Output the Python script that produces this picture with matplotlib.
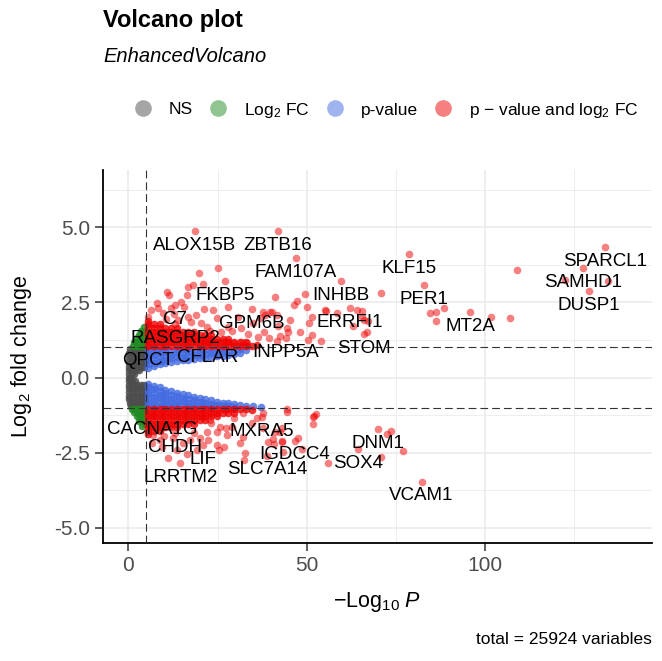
import matplotlib
matplotlib.use("Agg")
import matplotlib.pyplot as plt
from matplotlib.lines import Line2D
from matplotlib.ticker import FixedLocator

# x = -log10(P), y = log2 fold change

# not significant (grey): rows of (log2FC, [-log10 P ...])
ns_rows = [
    (0.95, [0.6, 1.8, 3.0, 4.2]),
    (0.83, [0.3, 1.5, 2.7, 3.9, 4.6]),
    (0.71, [0.2, 1.4, 2.6, 3.8, 4.6]),
    (0.59, [0.2, 1.3, 2.5, 3.7, 4.6]),
    (0.47, [0.2, 1.3, 2.5, 3.7, 4.6]),
    (0.35, [0.2, 1.2, 2.4, 3.6, 4.5]),
    (0.24, [0.2, 1.1, 2.2, 3.0]),
    (0.12, [0.2, 1.0, 1.6]),
    (0.00, [0.2, 0.5]),
    (-0.12, [0.2, 1.0, 2.0]),
    (-0.24, [0.2, 1.2, 2.4, 3.6, 4.5]),
    (-0.36, [0.2, 1.2, 2.4, 3.6, 4.6]),
    (-0.48, [0.2, 1.3, 2.5, 3.7, 4.6]),
    (-0.60, [0.2, 1.3, 2.5, 3.7, 4.6]),
    (-0.72, [0.3, 1.4, 2.6, 3.8, 4.6]),
    (-0.84, [0.4, 1.5, 2.7, 3.9, 4.6]),
    (-0.96, [0.7, 1.8, 3.0, 4.2]),
]

# log2 FC only (green): (-log10 P, log2FC)
fc_pts = [
    (4.3, 1.68), (3.6, 1.55), (4.6, 1.52), (2.9, 1.42), (4.0, 1.40),
    (2.3, 1.30), (3.4, 1.28), (4.6, 1.30), (1.7, 1.18), (2.8, 1.17),
    (3.9, 1.16), (4.7, 1.15), (1.3, 1.06), (2.3, 1.05), (3.3, 1.05),
    (4.3, 1.05),
    (1.0, -1.04), (2.0, -1.05), (3.0, -1.04), (4.0, -1.05), (4.7, -1.06),
    (1.6, -1.16), (2.6, -1.17), (3.6, -1.16), (4.5, -1.18), (2.3, -1.29),
    (3.3, -1.30), (4.3, -1.31), (3.0, -1.43), (4.0, -1.45), (4.6, -1.55),
    (3.8, -1.60),
]

# p-value only (blue): columns of (-log10 P, [log2FC ...])
pv_cols = [
    (5.6, [0.33, 0.45, 0.57, 0.69, 0.81, 0.93]),
    (7.2, [0.38, 0.50, 0.62, 0.74, 0.86, 0.97]),
    (8.8, [0.44, 0.56, 0.68, 0.80, 0.92]),
    (10.4, [0.48, 0.60, 0.72, 0.84, 0.96]),
    (12.0, [0.52, 0.64, 0.76, 0.88]),
    (13.6, [0.56, 0.68, 0.80, 0.92]),
    (15.2, [0.58, 0.70, 0.82, 0.94]),
    (16.8, [0.60, 0.72, 0.84, 0.96]),
    (18.4, [0.62, 0.74, 0.86]),
    (20.0, [0.64, 0.76, 0.88, 0.97]),
    (21.6, [0.66, 0.78, 0.90]),
    (23.2, [0.68, 0.80, 0.92]),
    (24.8, [0.71, 0.83, 0.95]),
    (26.4, [0.73, 0.85, 0.96]),
    (28.0, [0.76, 0.88]),
    (29.6, [0.79, 0.91]),
    (31.2, [0.83, 0.95]),
    (33.0, [0.90]),
    (5.6, [-0.20, -0.32, -0.44, -0.56, -0.68, -0.80, -0.92]),
    (7.2, [-0.27, -0.39, -0.51, -0.63, -0.75, -0.87, -0.97]),
    (8.8, [-0.33, -0.45, -0.57, -0.69, -0.81, -0.93]),
    (10.4, [-0.40, -0.52, -0.64, -0.76, -0.88, -0.97]),
    (12.0, [-0.46, -0.58, -0.70, -0.82, -0.94]),
    (13.6, [-0.50, -0.62, -0.74, -0.86, -0.96]),
    (15.2, [-0.55, -0.67, -0.79, -0.91]),
    (16.8, [-0.59, -0.71, -0.83, -0.95]),
    (18.4, [-0.64, -0.76, -0.88, -0.97]),
    (20.0, [-0.68, -0.80, -0.92]),
    (21.6, [-0.72, -0.84, -0.95]),
    (23.2, [-0.76, -0.88, -0.97]),
    (24.8, [-0.80, -0.92]),
    (26.4, [-0.83, -0.95]),
    (28.0, [-0.85, -0.96]),
    (29.6, [-0.87, -0.97]),
    (31.2, [-0.90]),
    (33.0, [-0.93]),
    (35.0, [-0.96]),
    (37.3, [-0.98]),
]

# p-value and log2 FC (red), dense core: columns of (-log10 P, [log2FC ...])
sig_cols = [
    (5.6, [1.05, 1.17, 1.29, 1.41, 1.53, 1.65, 1.77, 1.89]),
    (7.2, [1.05, 1.17, 1.29, 1.41, 1.53, 1.65, 1.77]),
    (8.8, [1.05, 1.17, 1.29, 1.41, 1.53, 1.65, 1.77]),
    (10.4, [1.05, 1.17, 1.29, 1.41, 1.53, 1.65]),
    (12.0, [1.05, 1.17, 1.29, 1.41, 1.53, 1.65]),
    (13.6, [1.05, 1.17, 1.29, 1.41, 1.53, 1.65]),
    (15.2, [1.05, 1.17, 1.29, 1.41, 1.53]),
    (16.8, [1.05, 1.17, 1.29, 1.41, 1.53]),
    (18.4, [1.05, 1.17, 1.29, 1.41, 1.53]),
    (20.0, [1.05, 1.17, 1.29, 1.41]),
    (21.6, [1.05, 1.17, 1.29, 1.41]),
    (23.2, [1.05, 1.17, 1.29, 1.41]),
    (24.8, [1.05, 1.17, 1.29]),
    (26.4, [1.05, 1.17, 1.29]),
    (28.0, [1.05, 1.17, 1.29]),
    (29.6, [1.05, 1.17]),
    (31.2, [1.05, 1.17]),
    (33.0, [1.05, 1.17]),
    (34.6, [1.06]),
    (36.2, [1.08]),
    (5.6, [-1.05, -1.17, -1.29, -1.41, -1.53, -1.65, -1.77, -1.89]),
    (7.2, [-1.05, -1.17, -1.29, -1.41, -1.53, -1.65, -1.77]),
    (8.8, [-1.05, -1.17, -1.29, -1.41, -1.53, -1.65, -1.77]),
    (10.4, [-1.05, -1.17, -1.29, -1.41, -1.53, -1.65]),
    (12.0, [-1.05, -1.17, -1.29, -1.41, -1.53, -1.65]),
    (13.6, [-1.05, -1.17, -1.29, -1.41, -1.53, -1.65]),
    (15.2, [-1.05, -1.17, -1.29, -1.41, -1.53]),
    (16.8, [-1.05, -1.17, -1.29, -1.41, -1.53]),
    (18.4, [-1.05, -1.17, -1.29, -1.41, -1.53]),
    (20.0, [-1.05, -1.17, -1.29, -1.41]),
    (21.6, [-1.05, -1.17, -1.29, -1.41]),
    (23.2, [-1.05, -1.17, -1.29]),
    (24.8, [-1.05, -1.17, -1.29]),
    (26.4, [-1.05, -1.17]),
    (28.0, [-1.05, -1.17]),
    (29.6, [-1.05, -1.17]),
    (31.2, [-1.06]),
    (33.0, [-1.06]),
    (34.6, [-1.07]),
]

# p-value and log2 FC (red), scattered points
sig_pts = [
    (122.3, 3.23), (134.4, 3.20), (108.9, 3.57), (107.0, 1.97), (101.7, 2.00),
    (88.5, 2.30), (86.3, 2.17), (84.6, 2.14), (86.3, 1.87), (70.7, 2.80),
    (58.4, 2.14), (64.2, 2.24), (65.4, 2.20), (65.6, 2.00), (67.3, 1.87),
    (63.1, 1.70), (66.8, 1.50), (19.8, 3.47), (25.1, 3.63), (10.9, 2.83),
    (11.5, 2.73), (16.8, 3.00), (18.2, 3.07), (20.9, 3.10), (16.5, 2.73),
    (14.8, 2.50), (8.1, 2.47), (8.4, 2.30), (15.6, 2.34), (21.2, 2.27),
    (23.7, 2.24), (27.9, 2.34), (12.0, 2.30), (19.0, 2.07), (16.8, 2.00),
    (5.6, 2.00), (41.1, 2.67), (49.4, 2.77), (47.2, 2.53), (50.0, 2.34),
    (46.4, 2.40), (55.3, 2.20), (51.4, 2.00), (50.6, 1.80), (45.3, 1.90),
    (40.2, 2.17), (38.3, 2.07), (36.9, 1.97), (34.9, 1.80), (48.0, 1.50),
    (44.7, 1.50), (42.5, 1.37), (51.4, 1.40), (53.9, 1.20), (41.6, 1.20),
    (36.3, 1.34), (31.8, 1.17), (33.2, 1.14), (29.3, 1.14), (55.0, 2.24),
    (44.4, 1.64), (50.3, 1.24), (37.7, 2.17), (39.7, 2.17), (41.6, 2.07),
    (66.2, 1.90), (30.7, 2.00), (24.9, 1.97), (27.9, 1.67), (22.0, 1.67),
    (6.3, 2.25), (9.8, 2.15), (12.8, 2.10), (10.5, 1.95), (14.0, 1.90),
    (17.5, 1.85), (20.5, 1.80), (23.0, 1.55), (26.0, 1.50), (29.0, 1.55),
    (31.5, 1.65), (33.5, 1.45), (38.0, 1.50), (39.5, 1.30), (42.0, 1.70),
    (37.7, -1.18), (44.4, -1.03), (44.4, -1.15), (52.5, -1.22), (52.0, -1.28),
    (51.7, -1.55), (41.1, -1.82), (42.5, -1.82), (47.5, -2.02), (43.0, -2.15),
    (40.8, -2.21), (48.6, -2.38), (43.3, -2.48), (55.9, -2.85), (72.6, -1.88),
    (73.7, -1.78), (70.7, -2.65), (77.1, -2.45), (11.2, -2.68), (16.5, -2.54),
    (19.3, -2.41), (22.3, -2.08), (23.2, -1.52), (22.9, -1.42), (25.4, -2.41),
    (26.8, -2.31), (27.4, -1.68), (27.7, -1.92), (29.6, -1.35), (31.3, -2.18),
    (32.1, -1.18), (32.4, -2.75), (32.7, -2.51), (34.6, -1.52), (39.1, -2.15),
    (40.5, -2.05), (43.0, -2.11), (43.0, -1.68), (51.7, -1.32), (24.8, -1.82),
    (20.1, -2.01), (17.3, -2.08), (29.0, -1.65), (22.0, -1.82), (25.7, -1.65),
    (36.0, -1.35), (37.7, -1.68), (32.1, -1.98), (15.4, -2.18), (13.7, -2.41),
    (8.9, -2.08), (7.0, -1.92), (6.7, -2.18), (24.8, -2.25), (10.0, -1.95),
    (12.5, -2.00), (18.5, -1.85), (9.5, -2.30),
]

# labelled genes (all in the red group)
lab_genes = ["ALOX15B", "ZBTB16", "FAM107A", "KLF15", "PER1", "MT2A",
             "SPARCL1", "SAMHD1", "DUSP1", "INHBB", "ERRFI1", "STOM",
             "GPM6B", "FKBP5", "C7", "RASGRP2", "QPCT", "CFLAR", "INPP5A",
             "CACNA1G", "CHDH", "LIF", "LRRTM2", "MXRA5", "IGDCC4",
             "SLC7A14", "SOX4", "DNM1", "VCAM1"]
lab_p = [18.7, 41.9, 47.0, 78.7, 82.9, 95.8, 133.6, 127.5, 129.2, 59.6,
         62.2, 66.1, 34.7, 27.1, 13.1, 13.1, 5.4, 22.2, 44.2,
         6.6, 13.2, 20.9, 14.6, 37.5, 46.6, 38.8, 64.4, 69.9, 82.2]
lab_lfc = [4.86, 4.86, 3.97, 4.10, 3.07, 2.17, 4.33, 3.63, 2.87, 3.20,
           2.30, 1.44, 2.27, 3.20, 2.40, 1.77, 1.04, 1.14, 1.31,
           -1.25, -1.85, -2.25, -2.85, -1.32, -2.11, -2.61, -2.38, -1.72, -3.47]

p_cut = 5.0      # -log10(1e-5)
fc_cut = 1.0

legend_labels = ["NS", "Log$_{2}$ FC", "p-value", "p \u2212 value and log$_{2}$ FC"]
group_colors = ["#4d4d4d", "#228b22", "#4169e1", "#ee0000"]

xtick_vals = [0, 50, 100]
ytick_vals = [-5.0, -2.5, 0.0, 2.5, 5.0]
ytick_labels = ["-5.0", "-2.5", "0.0", "2.5", "5.0"]


def from_rows(rows):
    xs, ys = [], []
    for y, xlist in rows:
        for x in xlist:
            xs.append(x)
            ys.append(y)
    return xs, ys


def from_cols(cols):
    xs, ys = [], []
    for x, ylist in cols:
        for y in ylist:
            xs.append(x)
            ys.append(y)
    return xs, ys


plt.rcParams["font.family"] = ["Liberation Sans", "DejaVu Sans"]
plt.rcParams["mathtext.fontset"] = "custom"
plt.rcParams["mathtext.rm"] = "Liberation Sans"
plt.rcParams["mathtext.it"] = "Liberation Sans:italic"
plt.rcParams["mathtext.bf"] = "Liberation Sans:bold"

fig = plt.figure(figsize=(6.62, 6.61), dpi=100)
ax = fig.add_axes([103 / 662, 1 - 543 / 661, 549 / 662, 373 / 661])

ns_x, ns_y = from_rows(ns_rows)
fc_x = [p for p, l in fc_pts]
fc_y = [l for p, l in fc_pts]
pv_x, pv_y = from_cols(pv_cols)
sc_x, sc_y = from_cols(sig_cols)
sp_x = [p for p, l in sig_pts] + lab_p
sp_y = [l for p, l in sig_pts] + lab_lfc

# the sampled clouds stand in for thousands of overlapping genes,
# so they are drawn more opaque than the lone points
ax.scatter(ns_x, ns_y, s=30, color=group_colors[0], alpha=0.85, linewidths=0, zorder=2)
ax.scatter(fc_x, fc_y, s=30, color=group_colors[1], alpha=0.85, linewidths=0, zorder=2)
ax.scatter(pv_x, pv_y, s=30, color=group_colors[2], alpha=0.8, linewidths=0, zorder=2)
ax.scatter(sc_x, sc_y, s=30, color=group_colors[3], alpha=0.8, linewidths=0, zorder=2)
ax.scatter(sp_x, sp_y, s=30, color=group_colors[3], alpha=0.5, linewidths=0, zorder=2)

# cut-off lines
dash = (0, (7, 3.6))
ax.axvline(p_cut, color="#333333", lw=0.8, ls=dash, zorder=3)
ax.axhline(fc_cut, color="#333333", lw=0.8, ls=dash, zorder=3)
ax.axhline(-fc_cut, color="#333333", lw=0.8, ls=dash, zorder=3)

for g, p, l in zip(lab_genes, lab_p, lab_lfc):
    ax.annotate(g, (p, l), xytext=(0, -10), textcoords="offset points",
                ha="center", va="center", fontsize=13.5, zorder=5)

ax.set_xlim(-7.1, 146.8)
ax.set_ylim(-5.5, 6.9)
ax.xaxis.set_major_locator(FixedLocator(xtick_vals))
ax.yaxis.set_major_locator(FixedLocator(ytick_vals))
ax.set_yticklabels(ytick_labels)
ax.xaxis.set_minor_locator(FixedLocator([25, 75, 125]))
ax.yaxis.set_minor_locator(FixedLocator([-3.75, -1.25, 1.25, 3.75, 6.25]))

ax.set_axisbelow(True)
ax.grid(which="major", color="#ebebeb", lw=1.2)
ax.grid(which="minor", color="#ebebeb", lw=0.6)
ax.tick_params(which="major", labelsize=15, labelcolor="#4d4d4d", color="#333333",
               length=5.5, width=1.1, pad=4)
ax.tick_params(which="minor", length=0)
for side in ["top", "right"]:
    ax.spines[side].set_visible(False)
for side in ["left", "bottom"]:
    ax.spines[side].set_linewidth(1.3)
    ax.spines[side].set_color("black")

ax.set_xlabel("\u2212Log$_{10}$ $\\it{P}$", fontsize=15.5)
ax.set_ylabel("Log$_{2}$ fold change", fontsize=15.5)
ax.xaxis.set_label_coords(0.5, -0.127)
ax.yaxis.set_label_coords(-0.126, 0.5)

fig.text(103 / 662, 1 - 20 / 661, "Volcano plot", fontsize=17, fontweight="bold",
         ha="left", va="center")
fig.text(103 / 662, 1 - 57 / 661, "EnhancedVolcano", fontsize=14.5, style="italic",
         ha="left", va="center")
fig.text(652 / 662, 1 - 640 / 661, "total = 25924 variables", fontsize=12.5,
         ha="right", va="center")

handles = [Line2D([], [], ls="", marker="o", markersize=12, markeredgewidth=0,
                  markerfacecolor=c, alpha=0.5) for c in group_colors]
fig.legend(handles, legend_labels, loc="center", bbox_to_anchor=(0.584, 1 - 110 / 661),
           ncol=4, frameon=False, fontsize=12.5, handlelength=1.0,
           handletextpad=1.0, columnspacing=0.95)

fig.savefig("out.png", dpi=100)
